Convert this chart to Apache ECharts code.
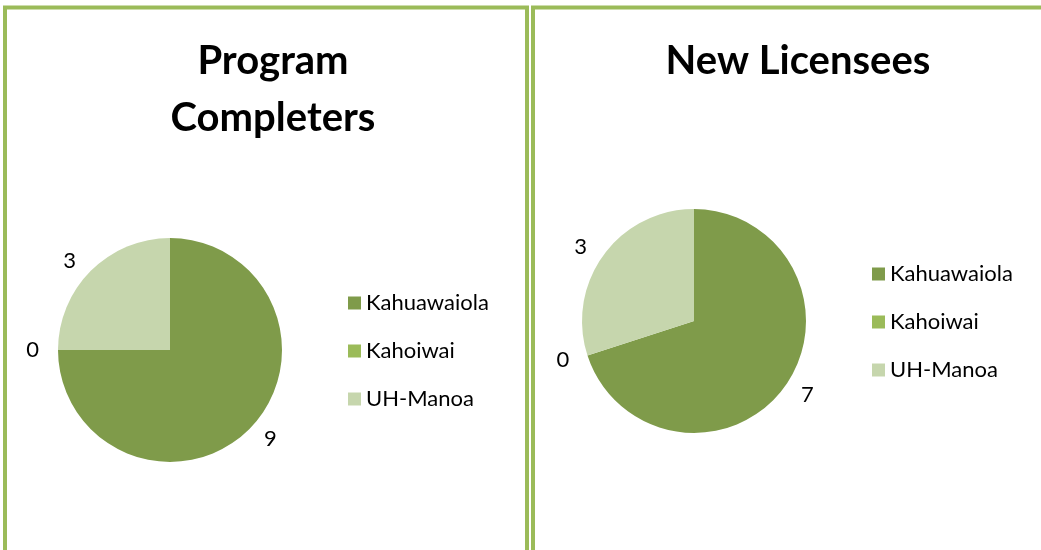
<!DOCTYPE html>
<html>
<head>
<meta charset="utf-8">
<script src="https://cdn.jsdelivr.net/npm/echarts@6/dist/echarts.min.js"></script>
<style>
  html, body { margin: 0; padding: 0; background: #fff; }
</style>
</head>
<body>
	<div id="main" style="width: 1041px; height: 550px;"></div>
	<script type="text/javascript">
		// data
		var categories = ['Kahuawaiola', 'Kahoiwai', 'UH-Manoa'];
		var completers = [9, 0, 3];
		var licensees = [7, 0, 3];
		var colors = ['#7F9B4A', '#9BBB59', '#C6D6AD'];

		var font = 'Lato, "Open Sans", sans-serif';

		function pieData(values) {
			var out = [];
			for (var i = 0; i < categories.length; i++) {
				out.push({ name: categories[i], value: values[i] });
			}
			return out;
		}

		function pieSeries(values, center) {
			return {
				type: 'pie',
				center: center,
				radius: 112,
				startAngle: 90,
				clockwise: true,
				silent: true,
				avoidLabelOverlap: false,
				stillShowZeroSum: true,
				minShowLabelAngle: 0,
				label: {
					show: true,
					position: 'outside',
					formatter: '{c}',
					color: '#000',
					fontSize: 22,
					fontFamily: font
				},
				labelLine: { show: false, length: 14, length2: 0 },
				itemStyle: { borderWidth: 0 },
				data: pieData(values)
			};
		}

		var myChart = echarts.init(document.getElementById('main'));

		var option = {
			animation: false,
			color: colors,
			title: [{
				text: 'Program\nCompleters',
				left: 268,
				top: 28,
				textAlign: 'center',
				textStyle: { fontSize: 40, fontWeight: 'bold', color: '#000', fontFamily: font, lineHeight: 57 }
			}, {
				text: 'New Licensees',
				left: 793,
				top: 28,
				textAlign: 'center',
				textStyle: { fontSize: 40, fontWeight: 'bold', color: '#000', fontFamily: font, lineHeight: 57 }
			}],
			legend: [{
				orient: 'vertical',
				left: 343,
				top: 287,
				itemWidth: 13,
				itemHeight: 13,
				itemGap: 26,
				icon: 'rect',
				selectedMode: false,
				data: categories,
				textStyle: { fontSize: 22, color: '#000', fontFamily: font }
			}, {
				orient: 'vertical',
				left: 867,
				top: 258,
				itemWidth: 13,
				itemHeight: 13,
				itemGap: 26,
				icon: 'rect',
				selectedMode: false,
				data: categories,
				textStyle: { fontSize: 22, color: '#000', fontFamily: font }
			}],
			graphic: [{
				type: 'rect',
				shape: { x: 5, y: 7.5, width: 522, height: 600 },
				style: { fill: 'none', stroke: '#9BBB59', lineWidth: 4 }
			}, {
				type: 'rect',
				shape: { x: 533, y: 7.5, width: 600, height: 600 },
				style: { fill: 'none', stroke: '#9BBB59', lineWidth: 4 }
			}],
			series: [
				pieSeries(completers, [170, 350]),
				pieSeries(licensees, [694, 321])
			]
		};

		myChart.setOption(option);
	</script>
</body>
</html>
